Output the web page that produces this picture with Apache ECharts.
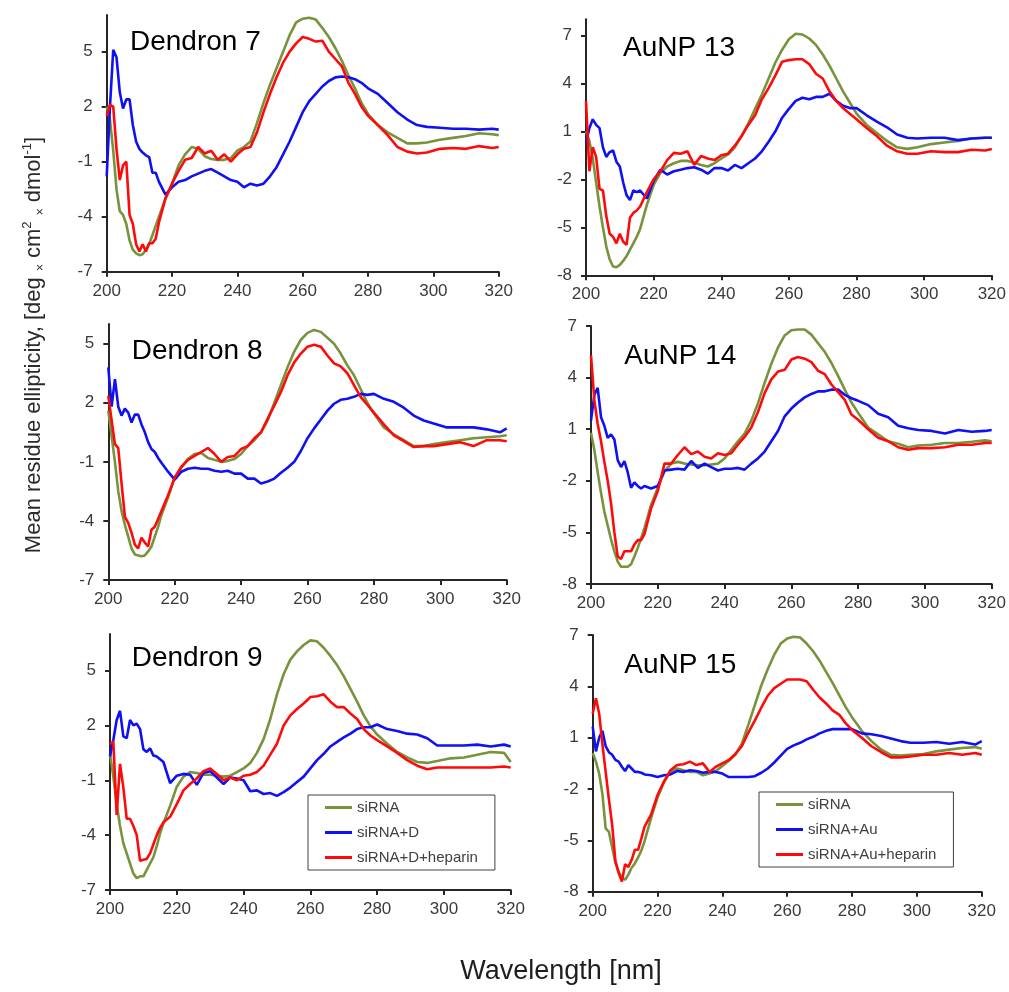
<!DOCTYPE html>
<html><head><meta charset="utf-8">
<script src="https://cdn.jsdelivr.net/npm/echarts@6/dist/echarts.min.js"></script>
<style>html,body{margin:0;padding:0;background:#fff}#c{width:1009px;height:992px}</style>
</head><body><div id="c"></div>
<script>
// ---------- DATA ----------
const wavelength = [200,201,202,203,204,205,206,207,208,209,210,211,212,213,214,215,216,
  218,220,222,224,226,228,230,232,234,236,238,240,242,244,246,248,
  250,252,254,256,258,260,262,264,266,268,270,272,274,276,278,280,
  283,286,289,292,295,298,302,306,310,314,318,320];

const panelTitles = ['Dendron 7','AuNP 13','Dendron 8','AuNP 14','Dendron 9','AuNP 15'];
const namesD = ['siRNA','siRNA+D','siRNA+D+heparin'];
const namesAu = ['siRNA','siRNA+Au','siRNA+Au+heparin'];
const yRanges = [[-7,7],[-8,8],[-7,6],[-8,7],[-7,7],[-8,7]];
const yTicksD = [-7,-4,-1,2,5];
const yTicksAu = [-8,-5,-2,1,4,7];
const xTicks = [200,220,240,260,280,300,320];

// Dendron 7
const d7_siRNA = [2.0,1.3,-0.4,-2.5,-3.7,-3.9,-4.4,-5.3,-5.8,-6.0,-6.1,-6.05,-5.8,-5.5,-5.0,-4.5,-4.0,
  -3.0,-2.2,-1.2,-0.6,-0.2,-0.3,-0.7,-0.85,-0.9,-0.9,-0.8,-0.4,-0.2,0.1,1.1,2.2,
  3.2,4.1,5.0,5.9,6.6,6.8,6.85,6.75,6.3,5.8,5.2,4.5,3.7,3.0,2.2,1.6,
  1.0,0.6,0.3,0.0,0.0,0.05,0.2,0.3,0.4,0.55,0.5,0.45];
const d7_D = [-1.8,2.0,5.1,4.7,2.8,1.9,2.4,2.4,1.0,0.1,-0.3,-0.5,-0.65,-0.75,-1.6,-1.6,-2.1,
  -2.8,-2.4,-2.1,-2.0,-1.8,-1.65,-1.5,-1.4,-1.6,-1.8,-2.0,-2.1,-2.4,-2.2,-2.3,-2.2,
  -1.8,-1.3,-0.6,0.1,0.9,1.7,2.3,2.7,3.1,3.4,3.6,3.65,3.6,3.5,3.3,3.0,
  2.7,2.2,1.7,1.3,1.0,0.9,0.85,0.8,0.8,0.75,0.8,0.75];
const d7_Dhep = [1.5,2.1,2.0,-0.3,-2.0,-1.2,-1.0,-3.9,-4.4,-5.5,-5.9,-5.5,-5.9,-5.45,-5.45,-5.2,-4.3,
  -3.0,-2.2,-1.5,-0.9,-0.8,-0.2,-0.55,-0.4,-0.9,-0.6,-1.0,-0.6,-0.3,-0.2,0.6,1.7,
  2.7,3.6,4.4,5.0,5.45,5.8,5.7,5.55,5.6,5.0,4.6,4.2,3.3,2.7,2.0,1.5,
  1.0,0.45,-0.2,-0.45,-0.55,-0.5,-0.3,-0.25,-0.3,-0.15,-0.25,-0.2];

// AuNP 13
const a13_siRNA = [1.0,0.4,-0.7,-2.2,-3.7,-5.0,-6.2,-7.0,-7.45,-7.5,-7.35,-7.1,-6.8,-6.4,-6.0,-5.6,-5.1,
  -3.6,-2.35,-1.6,-1.2,-1.0,-0.85,-0.85,-0.95,-1.1,-1.2,-1.0,-0.7,-0.45,0.0,0.7,1.5,
  2.4,3.3,4.3,5.3,6.1,6.75,7.1,7.05,6.8,6.4,5.8,5.1,4.3,3.5,2.8,2.1,
  1.4,0.9,0.4,0.0,-0.1,0.0,0.2,0.3,0.4,0.55,0.6,0.6];
const a13_Au = [0.3,1.2,1.75,1.4,1.2,0.0,-0.6,-0.3,-0.2,-0.9,-1.2,-2.2,-3.0,-3.3,-2.7,-2.8,-2.7,
  -3.2,-2.1,-1.4,-1.7,-1.5,-1.4,-1.3,-1.25,-1.4,-1.65,-1.3,-1.3,-1.45,-1.1,-1.3,-1.0,
  -0.7,-0.25,0.35,1.0,1.85,2.4,2.9,3.1,3.0,3.15,3.15,3.35,2.9,2.6,2.45,2.45,
  2.0,1.6,1.25,0.8,0.6,0.55,0.6,0.6,0.45,0.55,0.6,0.6];
const a13_Auhep = [2.9,-1.5,0.0,-0.6,-2.6,-2.7,-4.3,-5.4,-5.6,-6.0,-5.4,-5.9,-6.1,-4.4,-4.1,-3.95,-3.7,
  -2.8,-2.0,-1.5,-0.8,-0.35,-0.4,-0.25,-1.1,-0.55,-0.7,-0.8,-0.5,-0.4,0.1,0.7,1.4,
  2.0,3.0,3.7,4.5,5.35,5.45,5.5,5.5,5.2,4.6,4.3,3.5,2.9,2.45,2.1,1.75,
  1.2,0.7,0.1,-0.25,-0.4,-0.4,-0.25,-0.3,-0.3,-0.15,-0.2,-0.1];

// Dendron 8
const d8_siRNA = [1.6,0.3,-1.0,-2.5,-3.5,-4.2,-4.8,-5.4,-5.7,-5.75,-5.8,-5.75,-5.55,-5.3,-4.8,-4.3,-3.7,
  -2.8,-1.8,-1.3,-0.85,-0.6,-0.55,-0.8,-0.9,-1.0,-0.95,-0.85,-0.6,-0.2,0.1,0.5,1.1,
  2.0,2.9,3.8,4.6,5.2,5.55,5.7,5.6,5.3,5.0,4.5,3.9,3.4,2.7,2.0,1.45,
  0.75,0.4,0.1,-0.2,-0.2,-0.1,0.0,0.1,0.2,0.25,0.3,0.35];
const d8_D = [3.8,1.8,3.2,1.8,1.35,1.7,1.5,1.0,1.4,1.4,0.9,0.5,0.0,-0.35,-0.5,-0.8,-1.05,
  -1.5,-1.9,-1.5,-1.35,-1.3,-1.35,-1.35,-1.45,-1.5,-1.45,-1.6,-1.6,-1.85,-1.85,-2.1,-2.0,
  -1.85,-1.55,-1.3,-1.0,-0.45,0.2,0.7,1.15,1.6,1.95,2.15,2.2,2.3,2.45,2.4,2.45,
  2.2,2.05,1.75,1.35,1.1,0.95,0.75,0.75,0.75,0.65,0.5,0.7];
const d8_Dhep = [2.35,1.1,-0.1,-0.3,-2.1,-3.8,-4.1,-4.6,-5.2,-5.4,-4.85,-5.1,-5.3,-4.45,-4.3,-3.9,-3.5,
  -2.7,-1.8,-1.25,-0.9,-0.7,-0.5,-0.3,-0.6,-1.0,-0.75,-0.7,-0.35,-0.2,0.2,0.5,1.2,
  1.85,2.55,3.4,4.05,4.5,4.85,4.95,4.85,4.4,4.0,3.85,3.5,2.9,2.3,1.9,1.5,
  0.9,0.35,0.05,-0.25,-0.2,-0.2,-0.1,0.0,-0.2,0.1,0.1,0.05];

// AuNP 14
const a14_siRNA = [0.8,-0.2,-1.5,-2.7,-3.8,-4.6,-5.4,-6.1,-6.7,-7.0,-7.0,-7.0,-6.85,-6.4,-5.9,-5.35,-4.75,
  -3.4,-2.4,-1.45,-1.0,-0.9,-1.0,-1.05,-1.1,-1.1,-1.05,-1.0,-0.7,-0.2,0.3,0.75,1.5,
  2.5,3.7,4.8,5.75,6.45,6.75,6.8,6.8,6.5,6.0,5.5,4.85,4.1,3.3,2.55,1.95,
  1.1,0.7,0.3,0.15,-0.05,0.05,0.1,0.2,0.2,0.27,0.35,0.3];
const a14_Au = [1.5,3.0,3.4,1.7,1.2,0.5,0.7,0.4,-0.8,-1.2,-0.85,-1.5,-2.4,-2.1,-2.3,-2.45,-2.3,
  -2.45,-2.3,-1.4,-1.35,-1.3,-1.35,-0.85,-1.25,-1.0,-1.2,-1.4,-1.3,-1.3,-1.25,-1.35,-1.0,
  -0.7,-0.3,0.3,0.9,1.75,2.2,2.55,2.85,3.05,3.2,3.2,3.3,3.3,3.0,2.8,2.65,
  2.4,1.9,1.7,1.2,1.05,0.95,0.9,0.75,0.95,0.85,0.9,0.95];
const a14_Auhep = [5.3,2.7,1.3,0.3,-0.9,-2.0,-3.3,-5.0,-6.4,-6.55,-6.1,-6.1,-6.1,-5.7,-5.45,-5.45,-5.1,
  -3.6,-2.6,-1.0,-1.0,-0.5,-0.05,-0.45,-0.3,-0.6,-0.7,-0.4,-0.5,-0.4,0.1,0.55,1.1,
  2.0,3.1,3.9,4.35,4.45,5.05,5.2,5.1,4.9,4.4,4.2,3.6,3.15,2.7,1.85,1.55,
  1.0,0.5,0.3,-0.05,-0.2,-0.1,-0.1,-0.05,0.1,0.1,0.2,0.2];

// Dendron 9
const d9_siRNA = [0.45,-0.8,-2.3,-3.5,-4.45,-5.0,-5.55,-6.1,-6.35,-6.25,-6.25,-5.9,-5.55,-5.2,-4.6,-3.9,-3.35,
  -2.4,-1.35,-0.8,-0.55,-0.6,-0.7,-0.7,-0.75,-0.8,-0.75,-0.55,-0.35,-0.05,0.5,1.25,2.35,
  3.7,4.8,5.6,6.05,6.4,6.65,6.6,6.25,5.8,5.3,4.7,4.0,3.3,2.55,1.95,1.5,
  1.0,0.55,0.25,0.0,-0.05,0.05,0.2,0.25,0.4,0.55,0.5,0.0];
const d9_D = [0.3,1.2,2.3,2.8,1.4,1.3,2.3,2.0,2.1,1.8,0.7,0.55,0.75,0.35,0.3,0.15,0.0,
  -1.15,-0.75,-0.65,-0.7,-1.25,-0.6,-0.5,-0.85,-1.2,-0.85,-0.9,-1.0,-1.6,-1.55,-1.75,-1.7,
  -1.85,-1.65,-1.4,-1.1,-0.8,-0.35,0.1,0.45,0.85,1.1,1.35,1.55,1.8,1.9,1.9,2.05,
  1.8,1.7,1.55,1.5,1.3,0.9,0.9,0.9,0.95,0.85,0.95,0.85];
const d9_Dhep = [1.0,1.1,-2.9,-0.1,-1.4,-3.1,-3.1,-3.5,-4.0,-5.4,-5.35,-5.3,-5.0,-4.5,-4.0,-3.6,-3.3,
  -3.0,-2.3,-1.55,-1.2,-0.9,-0.5,-0.35,-0.65,-1.0,-0.85,-1.0,-0.75,-0.7,-0.55,-0.2,0.4,
  1.0,2.0,2.55,2.9,3.2,3.55,3.6,3.7,3.3,3.0,3.0,2.65,2.35,1.8,1.45,1.2,
  0.85,0.5,0.1,-0.2,-0.4,-0.3,-0.3,-0.3,-0.3,-0.3,-0.25,-0.3];

// AuNP 15
const a15_siRNA = [0.1,-0.4,-1.1,-2.3,-4.3,-4.5,-5.4,-6.3,-6.85,-7.15,-7.3,-7.0,-6.6,-6.35,-6.0,-5.6,-5.05,
  -3.7,-2.5,-1.6,-1.0,-0.8,-0.9,-1.0,-1.0,-1.2,-1.1,-0.95,-0.65,-0.35,0.0,0.65,1.75,
  2.9,4.05,5.0,5.85,6.5,6.8,6.9,6.85,6.5,6.05,5.5,4.85,4.2,3.5,2.8,2.2,
  1.4,0.8,0.3,0.0,-0.05,0.0,0.05,0.2,0.3,0.4,0.45,0.35];
const a15_Au = [1.65,0.2,1.0,1.4,0.5,0.15,0.0,-0.3,-0.4,-0.7,-0.95,-0.6,-0.8,-1.0,-1.0,-1.05,-1.15,
  -1.2,-1.3,-1.2,-1.15,-0.95,-1.0,-0.9,-0.95,-1.05,-1.0,-1.0,-1.1,-1.3,-1.3,-1.3,-1.3,
  -1.25,-1.05,-0.8,-0.45,-0.05,0.35,0.55,0.7,0.9,1.05,1.25,1.4,1.5,1.5,1.5,1.5,
  1.25,1.2,1.1,0.95,0.8,0.7,0.7,0.75,0.65,0.75,0.6,0.8];
const a15_Auhep = [2.4,3.3,2.4,0.6,-1.0,-2.6,-4.1,-6.2,-6.9,-7.4,-6.4,-6.55,-6.15,-5.55,-5.55,-4.9,-4.2,
  -3.5,-2.35,-1.55,-0.9,-0.6,-0.55,-0.4,-0.6,-0.5,-1.0,-0.7,-0.5,-0.3,0.05,0.5,1.3,
  2.0,2.75,3.45,3.9,4.15,4.4,4.4,4.4,4.3,3.8,3.35,3.0,2.6,2.35,1.85,1.45,
  1.0,0.5,0.15,-0.15,-0.15,-0.1,0.0,0.0,0.1,0.0,0.1,0.0];

const panelSeries = [
  [d7_siRNA, d7_D, d7_Dhep],
  [a13_siRNA, a13_Au, a13_Auhep],
  [d8_siRNA, d8_D, d8_Dhep],
  [a14_siRNA, a14_Au, a14_Auhep],
  [d9_siRNA, d9_D, d9_Dhep],
  [a15_siRNA, a15_Au, a15_Auhep]
];

// ---------- LAYOUT / STYLE ----------
const FONT = '"Liberation Sans", Arial, sans-serif';
const COLORS = ['#77933C', '#1010F5', '#FF0A0A'];
const AXIS_C = '#262626';
const LABEL_C = '#3a3a3a';
const grids = [
  {left:106.7, top:15,   width:392,   height:256.7},
  {left:586,   top:19.3, width:407.3, height:256},
  {left:108.3, top:324,  width:398.4, height:256},
  {left:591,   top:326,  width:400.7, height:258},
  {left:110,   top:634,  width:400.7, height:256},
  {left:592.7, top:635,  width:389,   height:256.7}
];
const titlePos = [[130,42],[623,48],[131.7,351.7],[624.3,356.7],[131.7,658.3],[624.3,665]];

const xAxes = [], yAxes = [], series = [], graphics = [];
grids.forEach((g, i) => {
  const isAu = i % 2 === 1;
  const yt = isAu ? yTicksAu : yTicksD;
  xAxes.push({
    type:'value', gridIndex:i, min:200, max:320, interval:20, position:'bottom',
    axisLine:{show:true, onZero:false, lineStyle:{color:AXIS_C, width:2}},
    axisTick:{show:true, length:5, lineStyle:{color:AXIS_C, width:2}},
    axisLabel:{customValues:xTicks, fontSize:17, color:LABEL_C, fontFamily:FONT, margin:11},
    splitLine:{show:false}
  });
  yAxes.push({
    type:'value', gridIndex:i, min:yRanges[i][0], max:yRanges[i][1], position:'left',
    axisLine:{show:true, onZero:false, lineStyle:{color:AXIS_C, width:2}},
    axisTick:{show:true, length:5, customValues:yt, lineStyle:{color:AXIS_C, width:2}},
    axisLabel:{customValues:yt, fontSize:17, color:LABEL_C, fontFamily:FONT, margin:14},
    splitLine:{show:false}
  });
  const names = isAu ? namesAu : namesD;
  panelSeries[i].forEach((vals, k) => {
    series.push({
      type:'line', name:names[k], xAxisIndex:i, yAxisIndex:i,
      data: wavelength.map((w, j) => [w, vals[j]]),
      showSymbol:false, symbol:'none', smooth:false,
      color:COLORS[k], itemStyle:{color:COLORS[k]},
      lineStyle:{color:COLORS[k], width:2.6},
      emphasis:{disabled:true}, silent:true, animation:false
    });
  });
  graphics.push({
    type:'text', x:titlePos[i][0], y:titlePos[i][1],
    style:{text:panelTitles[i], fontSize:28, fontFamily:FONT, fill:'#000', align:'left', verticalAlign:'middle'}
  });
});

graphics.push({
  type:'text', x:34, y:345, rotation:Math.PI/2,
  style:{
    text:'{a|Mean residue ellipticity, [deg }{x|×}{a| cm}{s|2}{a| }{x|×}{a| dmol}{s|-1}{a|]}',
    align:'center', verticalAlign:'middle',
    rich:{
      a:{fontSize:22, fontFamily:FONT, fill:'#2a2a2a', lineHeight:26},
      x:{fontSize:12, fontFamily:FONT, fill:'#2a2a2a', lineHeight:20, verticalAlign:'bottom'},
      s:{fontSize:13, fontFamily:FONT, fill:'#2a2a2a', lineHeight:14, verticalAlign:'top'}
    }
  }
});
graphics.push({
  type:'text', x:561, y:972,
  style:{text:'Wavelength [nm]', fontSize:27, fontFamily:FONT, fill:'#1e1e1e', align:'center', verticalAlign:'middle'}
});

const legendBase = {
  orient:'vertical', icon:'rect', itemWidth:27, itemHeight:3, itemGap:10,
  padding:[5,17,5,17], borderColor:'#404040', borderWidth:1, backgroundColor:'#fff',
  textStyle:{fontSize:15, color:'#404040', fontFamily:FONT, lineHeight:15},
  selectedMode:false
};

const chart = echarts.init(document.getElementById('c'), null, {renderer:'canvas'});
chart.setOption({
  animation:false,
  backgroundColor:'#fff',
  grid: grids,
  xAxis: xAxes,
  yAxis: yAxes,
  series: series,
  legend: [
    Object.assign({}, legendBase, {left:308, top:795, data:namesD}),
    Object.assign({}, legendBase, {left:759, top:792, data:namesAu})
  ],
  graphic: graphics
});
</script>
</body></html>
